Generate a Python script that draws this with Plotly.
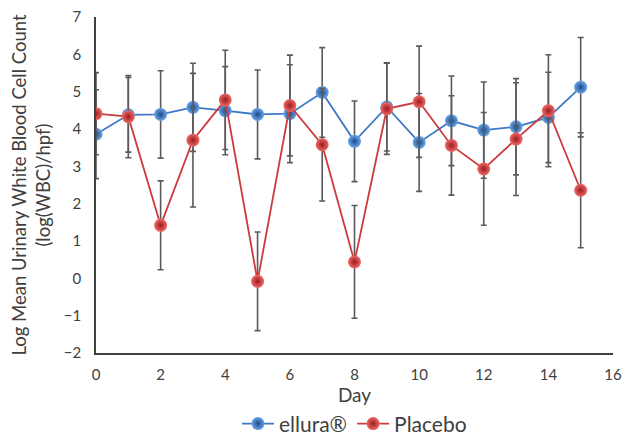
import plotly.graph_objects as go

days = list(range(16))
ellura = [3.86, 4.38, 4.39, 4.58, 4.49, 4.39, 4.41, 4.98, 3.67, 4.59, 3.64, 4.22, 3.97, 4.06, 4.31, 5.12]
ellura_err = [1.19, 1.0, 1.17, 1.18, 1.18, 1.19, 1.31, 1.2, 1.08, 1.18, 1.31, 1.2, 1.29, 1.29, 1.21, 1.33]
placebo = [4.41, 4.33, 1.42, 3.70, 4.78, -0.08, 4.63, 3.58, 0.44, 4.54, 4.73, 3.56, 2.93, 3.73, 4.49, 2.36]
placebo_err = [1.1, 1.1, 1.19, 1.79, 1.33, 1.32, 1.35, 1.51, 1.51, 1.22, 1.49, 1.33, 1.51, 1.51, 1.5, 1.54]
x_ticks = [0, 2, 4, 6, 8, 10, 12, 14, 16]
y_ticks = [-2, -1, 0, 1, 2, 3, 4, 5, 6, 7]

FONT = "Lato, 'Open Sans', sans-serif"
ERR = dict(type="data", visible=True, color="#5a5a5a", thickness=1.6, width=3)

fig = go.Figure()
fig.add_trace(go.Scatter(
    x=days, y=ellura, name="ellura®", mode="lines+markers",
    line=dict(color="#3d78c4", width=1.8),
    marker=dict(size=13, color="#6aa6e8", line=dict(width=0),
                gradient=dict(type="radial", color="#1d4a8a")),
    error_y=dict(array=ellura_err, **ERR),
))
fig.add_trace(go.Scatter(
    x=days, y=placebo, name="Placebo", mode="lines+markers",
    line=dict(color="#cc3b3b", width=1.8),
    marker=dict(size=13, color="#f06868", line=dict(width=0),
                gradient=dict(type="radial", color="#9a1c1c")),
    error_y=dict(array=placebo_err, **ERR),
))

# page body adds an ~8px offset, so the figure is sized 626x427
fig.update_layout(
    width=626, height=427,
    margin=dict(l=88, r=21, t=9, b=82, autoexpand=False),
    paper_bgcolor="white", plot_bgcolor="white",
    font=dict(family=FONT, color="#404040", size=15),
    showlegend=True,
    legend=dict(orientation="h", x=0.5, xanchor="center", xref="paper",
                y=-0.15, yanchor="top", font=dict(size=21, color="#404040"),
                itemwidth=32, tracegroupgap=0),
    xaxis=dict(
        range=[0, 16], tickvals=x_ticks, ticks="", showgrid=False, zeroline=False,
        showline=True, linecolor="#404040", linewidth=1.5, automargin=False,
        ticklabelstandoff=7, ticklabeloverflow="allow",
        tickfont=dict(size=15, color="#404040"),
        title=dict(text="Day", font=dict(size=19, color="#404040"), standoff=6),
    ),
    yaxis=dict(
        range=[-2, 7], tickvals=y_ticks, ticks="", showgrid=False, zeroline=False,
        showline=True, linecolor="#404040", linewidth=1.5, automargin=False,
        ticklabelstandoff=10, ticklabeloverflow="allow",
        tickfont=dict(size=15, color="#404040"),
        title=dict(text="Log Mean Urinary White Blood Cell Count<br>(log(WBC)/hpf)",
                   font=dict(size=18.5, color="#404040"), standoff=8),
    ),
)

fig.write_html("out.html")
